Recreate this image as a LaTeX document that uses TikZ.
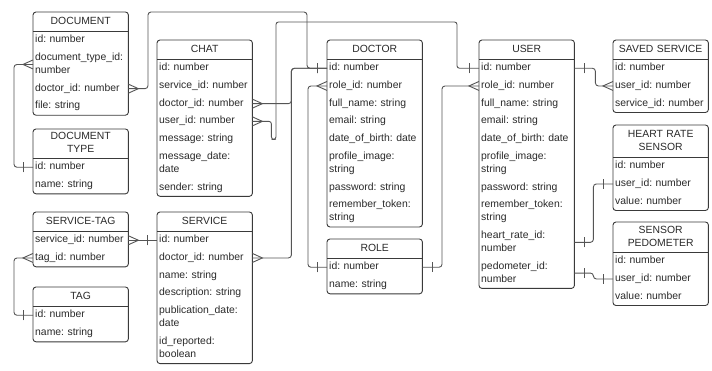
\documentclass[tikz,border=0pt]{standalone}
\usepackage{fontspec}
\setmainfont{Liberation Sans}
\usetikzlibrary{decorations.markings}
\definecolor{boxc}{HTML}{3A3A3A}
\definecolor{linec}{HTML}{555555}
\definecolor{textc}{HTML}{2A2A2A}
\tikzset{
  base/.style={inner xsep=2pt, inner ysep=0pt, text width=91pt,
    font=\fontsize{10.4}{13}\selectfont\frenchspacing, text=textc,
    execute at begin node=\strut, execute at end node=\strut},
  hdr/.style={base, anchor=north west, align=center, minimum height=19pt},
  row/.style={base, anchor=north west, align=left, minimum height=17.3pt},
  row2/.style={row, minimum height=30.3pt},
  ebox/.style={draw=boxc, line width=0.9pt, rounded corners=3pt},
  sepline/.style={draw=boxc, line width=0.9pt},
  conn/.style={draw=linec, line width=0.9pt, rounded corners=3pt},
  tipline/.style={draw=linec, line width=0.9pt, sharp corners},
  bar start/.style={postaction={decorate, decoration={markings,
    mark=at position 10pt with {\draw[tipline] (0,-5pt) -- (0,5pt);}}}},
  bar end/.style={postaction={decorate, decoration={markings,
    mark=at position -10pt with {\draw[tipline] (0,-5pt) -- (0,5pt);}}}},
  crow start/.style={postaction={decorate, decoration={markings,
    mark=at position 0pt with {\draw[tipline] (0,4.5pt) -- (10pt,0) -- (0,-4.5pt);}}}},
  crow end/.style={postaction={decorate, decoration={markings,
    mark=at position 1 with {\draw[tipline] (0,4.5pt) -- (-10pt,0) -- (0,-4.5pt);}}}}
}
\begin{document}
\begin{tikzpicture}[x=1pt, y=-1pt]
\fill[white] (0,0) rectangle (712,370);
\useasboundingbox (0,0) rectangle (712,370);

% DOCUMENT
\node[hdr] (doc-h) at (33,12) {DOCUMENT};
\node[row] (doc-1) at (doc-h.south west) {id: number};
\node[row2] (doc-2) at (doc-1.south west) {document\_type\_id:\\number};
\node[row] (doc-3) at (doc-2.south west) {doctor\_id: number};
\node[row] (doc-4) at (doc-3.south west) {file: string};
\draw[ebox] (doc-h.north west) rectangle (doc-4.south east);
\draw[sepline] (doc-h.south west) -- (doc-h.south east);

% DOCUMENT TYPE
\node[hdr, minimum height=29pt] (dt-h) at (33,129) {DOCUMENT\\TYPE};
\node[row] (dt-1) at (dt-h.south west) {id: number};
\node[row] (dt-2) at (dt-1.south west) {name: string};
\draw[ebox] (dt-h.north west) rectangle (dt-2.south east);
\draw[sepline] (dt-h.south west) -- (dt-h.south east);

% SERVICE-TAG
\node[hdr] (st-h) at (33,212) {SERVICE-TAG};
\node[row] (st-1) at (st-h.south west) {service\_id: number};
\node[row] (st-2) at (st-1.south west) {tag\_id: number};
\draw[ebox] (st-h.north west) rectangle (st-2.south east);
\draw[sepline] (st-h.south west) -- (st-h.south east);

% TAG
\node[hdr] (tag-h) at (33,287) {TAG};
\node[row] (tag-1) at (tag-h.south west) {id: number};
\node[row] (tag-2) at (tag-1.south west) {name: string};
\draw[ebox] (tag-h.north west) rectangle (tag-2.south east);
\draw[sepline] (tag-h.south west) -- (tag-h.south east);

% CHAT
\node[hdr] (chat-h) at (157,40) {CHAT};
\node[row] (chat-1) at (chat-h.south west) {id: number};
\node[row] (chat-2) at (chat-1.south west) {service\_id: number};
\node[row] (chat-3) at (chat-2.south west) {doctor\_id: number};
\node[row] (chat-4) at (chat-3.south west) {user\_id: number};
\node[row] (chat-5) at (chat-4.south west) {message: string};
\node[row2] (chat-6) at (chat-5.south west) {message\_date:\\date};
\node[row] (chat-7) at (chat-6.south west) {sender: string};
\draw[ebox] (chat-h.north west) rectangle (chat-7.south east);
\draw[sepline] (chat-h.south west) -- (chat-h.south east);

% SERVICE
\node[hdr] (svc-h) at (157,212) {SERVICE};
\node[row] (svc-1) at (svc-h.south west) {id: number};
\node[row] (svc-2) at (svc-1.south west) {doctor\_id: number};
\node[row] (svc-3) at (svc-2.south west) {name: string};
\node[row] (svc-4) at (svc-3.south west) {description: string};
\node[row2] (svc-5) at (svc-4.south west) {publication\_date:\\date};
\node[row2] (svc-6) at (svc-5.south west) {id\_reported:\\boolean};
\draw[ebox] (svc-h.north west) rectangle (svc-6.south east);
\draw[sepline] (svc-h.south west) -- (svc-h.south east);

% DOCTOR
\node[hdr] (dr-h) at (327,40) {DOCTOR};
\node[row] (dr-1) at (dr-h.south west) {id: number};
\node[row] (dr-2) at (dr-1.south west) {role\_id: number};
\node[row] (dr-3) at (dr-2.south west) {full\_name: string};
\node[row] (dr-4) at (dr-3.south west) {email: string};
\node[row] (dr-5) at (dr-4.south west) {date\_of\_birth: date};
\node[row2] (dr-6) at (dr-5.south west) {profile\_image:\\string};
\node[row] (dr-7) at (dr-6.south west) {password: string};
\node[row2] (dr-8) at (dr-7.south west) {remember\_token:\\string};
\draw[ebox] (dr-h.north west) rectangle (dr-8.south east);
\draw[sepline] (dr-h.south west) -- (dr-h.south east);

% ROLE
\node[hdr] (role-h) at (327,239) {ROLE};
\node[row] (role-1) at (role-h.south west) {id: number};
\node[row] (role-2) at (role-1.south west) {name: string};
\draw[ebox] (role-h.north west) rectangle (role-2.south east);
\draw[sepline] (role-h.south west) -- (role-h.south east);

% USER
\node[hdr] (usr-h) at (479,40) {USER};
\node[row] (usr-1) at (usr-h.south west) {id: number};
\node[row] (usr-2) at (usr-1.south west) {role\_id: number};
\node[row] (usr-3) at (usr-2.south west) {full\_name: string};
\node[row] (usr-4) at (usr-3.south west) {email: string};
\node[row] (usr-5) at (usr-4.south west) {date\_of\_birth: date};
\node[row2] (usr-6) at (usr-5.south west) {profile\_image:\\string};
\node[row] (usr-7) at (usr-6.south west) {password: string};
\node[row2] (usr-8) at (usr-7.south west) {remember\_token:\\string};
\node[row2] (usr-9) at (usr-8.south west) {heart\_rate\_id:\\number};
\node[row2] (usr-10) at (usr-9.south west) {pedometer\_id:\\number};
\draw[ebox] (usr-h.north west) rectangle (usr-10.south east);
\draw[sepline] (usr-h.south west) -- (usr-h.south east);

% SAVED SERVICE
\node[hdr] (sav-h) at (613,40) {SAVED SERVICE};
\node[row] (sav-1) at (sav-h.south west) {id: number};
\node[row] (sav-2) at (sav-1.south west) {user\_id: number};
\node[row] (sav-3) at (sav-2.south west) {service\_id: number};
\draw[ebox] (sav-h.north west) rectangle (sav-3.south east);
\draw[sepline] (sav-h.south west) -- (sav-h.south east);

% HEART RATE SENSOR
\node[hdr, minimum height=32pt] (hrs-h) at (613,125) {HEART RATE\\SENSOR};
\node[row] (hrs-1) at (hrs-h.south west) {id: number};
\node[row] (hrs-2) at (hrs-1.south west) {user\_id: number};
\node[row] (hrs-3) at (hrs-2.south west) {value: number};
\draw[ebox] (hrs-h.north west) rectangle (hrs-3.south east);
\draw[sepline] (hrs-h.south west) -- (hrs-h.south east);

% SENSOR PEDOMETER
\node[hdr, minimum height=30pt] (ped-h) at (613,222) {SENSOR\\PEDOMETER};
\node[row] (ped-1) at (ped-h.south west) {id: number};
\node[row] (ped-2) at (ped-1.south west) {user\_id: number};
\node[row] (ped-3) at (ped-2.south west) {value: number};
\draw[ebox] (ped-h.north west) rectangle (ped-3.south east);
\draw[sepline] (ped-h.south west) -- (ped-h.south east);

% junction coordinates
\coordinate (j1) at (148,12);
\coordinate (j2) at (307,12);
\coordinate (j3) at (276,22);
\coordinate (j4) at (457,22);

% connectors
\draw[conn, crow start, bar end] (doc-2.west) -- ++(-19,0) |- (dt-1.west);
\draw[conn, crow start, bar end] (doc-3.east) -| (j1) -- (j2) |- (dr-1.west);
\draw[conn, crow start, bar end] (chat-3.east) -- ++(39,0) |- (dr-1.west);
\draw[conn, crow start, bar end] (svc-2.east) -- ++(39,0) |- (dr-1.west);
\draw[conn, crow start, bar end, rounded corners=2.5pt] (chat-4.east) -- ++(19,0) -- ++(0,18) -| (j3) -- (j4) |- (usr-1.west);
\draw[conn, crow start, bar end] (dr-2.west) -- ++(-19,0) |- (role-1.west);
\draw[conn, crow start, bar end] (usr-2.west) -- ++(-37,0) |- (role-1.east);
\draw[conn, bar start, crow end] (usr-1.east) -- ++(21,0) |- (sav-2.west);
\draw[conn, bar start, bar end] (usr-9.east) -- ++(19,0) |- (hrs-2.west);
\draw[conn, bar start, bar end] (usr-10.east) -- ++(19,0) |- (ped-2.west);
\draw[conn, crow start, bar end] (st-1.east) -- (svc-1.west);
\draw[conn, crow start, bar end] (st-2.west) -- ++(-19,0) |- (tag-1.west);
\end{tikzpicture}
\end{document}
